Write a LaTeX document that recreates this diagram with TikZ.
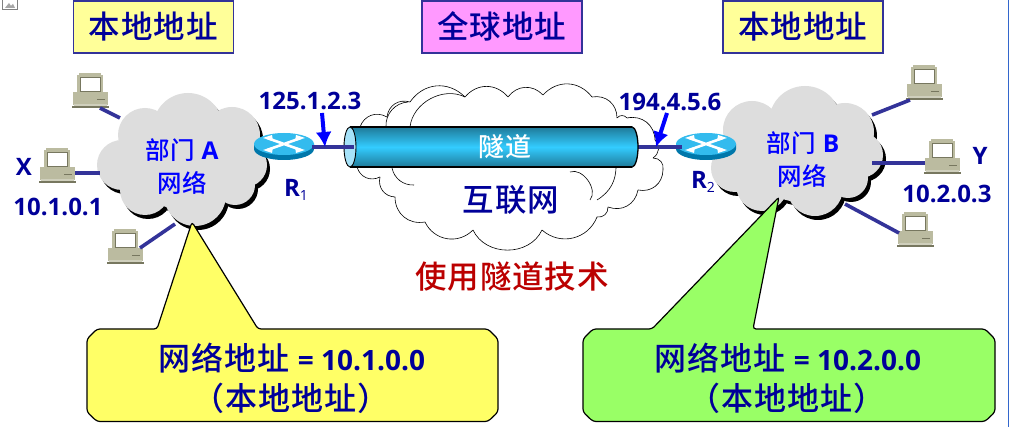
\documentclass[tikz,border=0pt]{standalone}
\usepackage{fontspec}
\setmainfont{Open Sans}
\newfontfamily\cjk[LetterSpace=3]{Noto Sans CJK SC Medium}
\newfontfamily\lat{Open Sans}
\usetikzlibrary{arrows.meta,calc}
\definecolor{navy}{HTML}{000099}
\definecolor{deptblue}{HTML}{0000FF}
\definecolor{linkblue}{HTML}{333399}
\definecolor{pcbody}{HTML}{BBBBA0}
\definecolor{pcdark}{HTML}{77775F}
\definecolor{cloudgray}{HTML}{DDDDDD}
\definecolor{routertop}{HTML}{33BBEE}
\definecolor{routerside}{HTML}{0077AA}
\definecolor{tubemid}{HTML}{33CCFF}
\definecolor{tubedark}{HTML}{1F7A99}
\definecolor{paleyellow}{HTML}{FFFF99}
\definecolor{pink}{HTML}{FF99FF}
\definecolor{edgeblue}{HTML}{3366CC}
\definecolor{callyellow}{HTML}{FFFF66}
\definecolor{callgreen}{HTML}{99FF66}
\definecolor{darkred}{HTML}{BB0000}
\newcommand{\fs}[1]{\fontsize{#1}{#1}\selectfont}
\tikzset{
  x=1pt,y=-1pt,
  topbox/.style={draw=linkblue,line width=1.6pt,minimum height=52pt,inner sep=0pt,anchor=north west},
  toptext/.style={text=navy,font=\fs{31.5}\cjk},
  dept/.style={text=deptblue,font=\fs{24.5}\cjk},
  addr/.style={text=navy,font=\fs{24}\lat\bfseries},
  calltext/.style={text=navy,font=\fs{32}\cjk},
  link/.style={draw=linkblue,line width=3.6pt},
  thin cloud/.style={draw=black,line width=0.6pt},
  pointer/.style={draw=deptblue,line width=4pt,-{Latex[length=15pt,width=16pt]}},
  pc/.pic={
    \fill[pcbody] (4,2) rectangle (30,20);
    \fill[pcbody] (6,0) rectangle (28,3);
    \fill[white] (7,4) rectangle (27,18);
    \draw[pcdark,line width=0.4pt] (7,4) rectangle (27,18);
    \fill[pcbody] (0,19) rectangle (35,32);
    \fill[pcdark] (24,26) rectangle (32,27);
    \fill[pcdark] (-1,33) rectangle (36,35);
    \fill[pcbody!70!white] (1,31) rectangle (34,33);
  },
  router/.pic={
    \fill[routerside] (-30,0) -- (-30,5) arc[start angle=180,end angle=360,x radius=30,y radius=-11] -- (30,0) -- cycle;
    \fill[routertop] (0,0) ellipse[x radius=30,y radius=11];
    \draw[white,line width=2.6pt] (-17,-6) -- (17,6) (-17,6) -- (17,-6);
    \fill[white] (-21,-6) -- (-12,-9) -- (-11,-3) -- cycle;
    \fill[white] (21,6) -- (12,9) -- (11,3) -- cycle;
    \fill[white] (21,-6) -- (12,-9) -- (11,-3) -- cycle;
    \fill[white] (-21,6) -- (-12,9) -- (-11,3) -- cycle;
  },
}
\begin{document}
\begin{tikzpicture}
\useasboundingbox (0,0) rectangle (1009,427);
\fill[white] (0,0) rectangle (1009,427);
% page edge and broken image icon
\draw[edgeblue,line width=1pt] (1008,0) -- (1008,427);
\draw[gray,line width=1pt] (2,-1) -- (2,10) -- (17,10) -- (17,-1);
\fill[gray!70] (5,8) -- (9,3) -- (11,6) -- (13,4) -- (15,8) -- cycle;
% top boxes
\node[topbox,fill=paleyellow,minimum width=160pt] (boxa) at (72.5,0) {};
\node[topbox,fill=pink,minimum width=160pt] (boxg) at (421,0) {};
\node[topbox,fill=paleyellow,minimum width=160pt] (boxb) at (722,0) {};
\node[toptext] (ta) at (boxa.center) {本地地址};
\node[toptext] (tg) at (boxg.center) {全球地址};
\node[toptext] (tb) at (boxb.center) {本地地址};
% internet cloud
\coordinate (c1) at (360,127);
\coordinate (c2) at (387,117);
\coordinate (c3) at (410,102);
\coordinate (c4) at (465,97);
\coordinate (c5) at (508,97);
\coordinate (c6) at (543,95);
\coordinate (c7) at (592,97);
\coordinate (c8) at (617,118);
\coordinate (c9) at (627,118);
\coordinate (c10) at (655,140);
\coordinate (c11) at (653,158);
\coordinate (c12) at (663,170);
\coordinate (c13) at (638,190);
\coordinate (c14) at (608,207);
\coordinate (c15) at (597,217);
\coordinate (c16) at (542,230);
\coordinate (c17) at (473,230);
\coordinate (c18) at (425,222);
\coordinate (c19) at (395,197);
\coordinate (c20) at (380,177);
\coordinate (c21) at (357,167);
\fill[white] (c1) \foreach \i in {2,...,21}{ -- (c\i)} -- cycle;
\foreach \a/\b/\k in {1/2/50,2/3/50,3/4/50,4/5/50,5/6/50,6/7/50,7/8/50,8/9/50,9/10/50,10/11/50,11/12/50,12/13/50,13/14/50,14/15/50,15/16/55,16/17/65,17/18/55,18/19/50,19/20/50,20/21/50,21/1/50}
  \draw[thin cloud] (c\a) to[bend left=\k,looseness=1.1] (c\b);
\draw[thin cloud] (410,127) to[bend left=55] (c4);
\draw[thin cloud] (386,127) to[bend left=45] (408,102);
\draw[thin cloud] (570,172) to[bend left=75] (590,200);
\draw[thin cloud] (392,168) to[bend right=40] (414,185);
\draw[thin cloud] (616,165) to[bend left=30] (597,200);
% links and routers
\coordinate (tubeL) at (350,147);
\coordinate (tubeR) at (632,147);
\coordinate (r1) at (284,144);
\coordinate (r2) at (706,144);
\draw[link] (312,147) -- (tubeL);
\draw[link] (tubeR) -- (682,147);
% tunnel
\fill[top color=tubedark,bottom color=tubedark,middle color=tubemid,draw=none] (tubeR) ellipse[x radius=6,y radius=20];
\draw[black,line width=1.3pt] (tubeR) ellipse[x radius=6,y radius=20];
\shade[top color=tubedark,bottom color=tubedark,middle color=tubemid] (350,127) rectangle (632,167);
\draw[black,line width=1.3pt] (350,127) -- (632,127) (350,167) -- (632,167);
\draw[black,line width=0.9pt,fill=cyan!35!white] (tubeL) ellipse[x radius=6,y radius=20];
\draw[link] (333,147) -- (354,147);
\node[text=white,font=\fs{26}\cjk] (tun) at (505,147) {隧道};
\node[text=navy,font=\fs{31.5}\cjk] (net) at (511,200) {互联网};
\node[text=darkred,font=\fs{31.5}\cjk] (use) at (512,277) {使用隧道技术};
% department clouds
\foreach \dx/\dy/\col in {3/4/black,0/0/cloudgray}{
  \begin{scope}[shift={(\dx,\dy)}]
    \fill[\col] (188,128) circle[radius=35];
    \fill[\col] (145,135) circle[radius=27];
    \fill[\col] (232,135) circle[radius=28];
    \fill[\col] (122,165) circle[radius=25];
    \fill[\col] (245,165) circle[radius=22];
    \fill[\col] (145,190) circle[radius=25];
    \fill[\col] (195,195) circle[radius=31];
    \fill[\col] (235,185) circle[radius=20];
    \fill[\col] (183,160) circle[radius=50];
    \fill[\col] (805,122) circle[radius=36];
    \fill[\col] (752,130) circle[radius=29];
    \fill[\col] (845,132) circle[radius=29];
    \fill[\col] (735,168) circle[radius=24];
    \fill[\col] (860,155) circle[radius=23];
    \fill[\col] (762,185) circle[radius=26];
    \fill[\col] (815,188) circle[radius=28];
    \fill[\col] (848,178) circle[radius=20];
    \fill[\col] (800,152) circle[radius=50];
  \end{scope}
}
\node[dept] (da1) at (182,150) {部门 {\lat\bfseries A}};
\node[dept] (da2) at (182,183) {网络};
\node[dept] (db1) at (803,143) {部门 {\lat\bfseries B}};
\node[dept] (db2) at (802,176) {网络};
\pic at (r1) {router};
\pic at (r2) {router};
\draw[link] (312,147) -- (333,147);
\draw[link] (660,147) -- (682,147);
% PCs
\pic at (73,73) {pc};
\pic at (40,148) {pc};
\pic at (108,229) {pc};
\pic at (907,65) {pc};
\pic at (925,139) {pc};
\pic at (898,212) {pc};
\coordinate (p1) at (100,108); \coordinate (n1) at (120,118);
\coordinate (p2) at (75,173);  \coordinate (n2) at (100,173);
\coordinate (p3) at (140,248); \coordinate (n3) at (175,224);
\coordinate (p4) at (910,100); \coordinate (n4) at (872,115);
\coordinate (p5) at (925,163); \coordinate (n5) at (872,163);
\coordinate (p6) at (899,233); \coordinate (n6) at (845,204);
\foreach \i in {1,...,6} \draw[link] (p\i) -- (n\i);
% labels
\node[addr] (x) at (24,167) {X};
\node[addr] (xa) at (58,207) {10.1.0.1};
\node[addr] (y) at (980,156) {Y};
\node[addr] (ya) at (947,194) {10.2.0.3};
\node[addr] (ra) at (310,101) {125.1.2.3};
\node[addr] (rb) at (670,102) {194.4.5.6};
\node[addr] (r1l) at (296,190) {R\raisebox{-4pt}{\fs{14}\mdseries 1}};
\node[addr] (r2l) at (703,182) {R\raisebox{-4pt}{\fs{14}\mdseries 2}};
\coordinate (a1) at (322,113); \coordinate (a1e) at (325,147);
\coordinate (a2) at (667,113); \coordinate (a2e) at (656,147);
\draw[pointer] (a1) -- (a1e);
\draw[pointer] (a2) -- (a2e);
% callouts
\def\callA{(97,329) -- (157,329) -- (192,222) -- (258,329) -- (488,329) -- (498,339) -- (498,412) -- (488,421.5) -- (97,421.5) -- (87,412) -- (87,339) -- cycle}
\def\callB{(593,329) -- (652,329) -- (779,197) -- (753,329) -- (985,329) -- (995,339) -- (995,412) -- (985,421.5) -- (593,421.5) -- (583,412) -- (583,339) -- cycle}
\draw[black,line width=1.2pt,fill=callyellow,rounded corners=3pt] \callA;
\draw[black,line width=1.2pt,fill=callgreen,rounded corners=3pt] \callB;
\node[calltext] (ca1) at (292,358) {网络地址 {\lat\bfseries\fs{28}= 10.1.0.0}};
\node[calltext] (ca2) at (291,398) {（本地地址）};
\node[calltext] (cb1) at (788,358) {网络地址 {\lat\bfseries\fs{28}= 10.2.0.0}};
\node[calltext] (cb2) at (787,398) {（本地地址）};
\end{tikzpicture}
\end{document}
